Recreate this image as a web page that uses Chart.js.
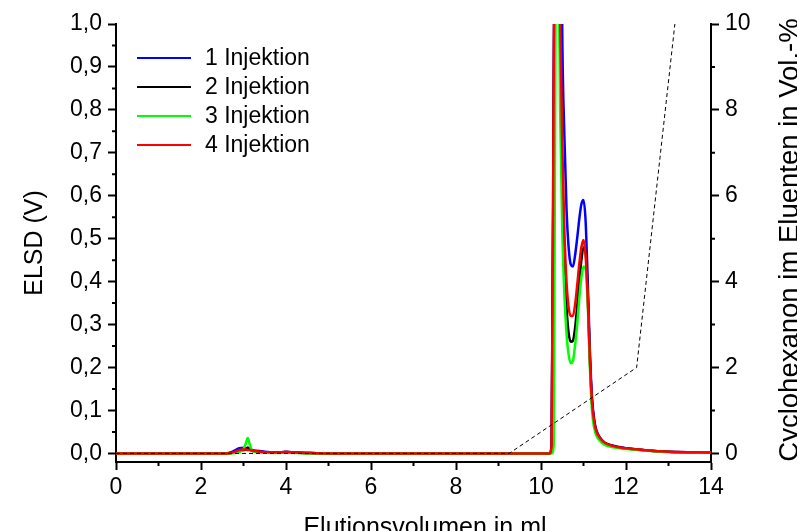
<!DOCTYPE html>
<html>
<head>
<meta charset="utf-8">
<script src="https://cdn.jsdelivr.net/npm/chart.js@4.4.0/dist/chart.umd.min.js"></script>
<style>
  html, body { margin: 0; padding: 0; background: #fff; }
  #wrap { width: 797px; height: 531px; }
</style>
</head>
<body>
<div id="wrap"><canvas id="elsdChart" width="797" height="531"></canvas></div>
<script>
// Elutionsvolumen (ml), gemeinsame Stuetzstellen fuer alle Injektionen
const volumes = [0, 2.6, 2.7, 2.8, 2.9, 3.0, 3.05, 3.1, 3.15, 3.2, 3.3, 3.5, 3.8, 4.0, 4.2, 4.5, 5.0, 8.0,
    10.2, 10.25, 10.3, 10.35, 10.4, 10.45, 10.5, 10.55, 10.6, 10.65, 10.7, 10.75, 10.8, 10.85, 10.9, 10.95,
    11.0, 11.05, 11.1, 11.15, 11.2, 11.25, 11.3, 11.4, 11.5, 11.7, 12.0, 12.5, 13.0, 14.0];

// ELSD-Signal (V)
const inj1 = [0, 0, 0.002, 0.007, 0.012, 0.013, 0.012, 0.011, 0.010, 0.008, 0.006, 0.004, 0.002, 0.004, 0.002, 0.001, 0, 0,
    0, 0.02, 0.9, 1.6, 1.9, 1.7, 0.98, 0.74, 0.57, 0.48, 0.44, 0.435, 0.46, 0.50, 0.545, 0.58,
    0.59, 0.54, 0.40, 0.24, 0.13, 0.08, 0.055, 0.035, 0.025, 0.018, 0.012, 0.007, 0.004, 0.002];
const inj2 = [0, 0, 0.001, 0.003, 0.006, 0.008, 0.009, 0.014, 0.009, 0.006, 0.005, 0.003, 0.002, 0.003, 0.002, 0.001, 0, 0,
    0, 0.01, 0.8, 1.6, 1.5, 0.95, 0.64, 0.45, 0.34, 0.28, 0.26, 0.262, 0.29, 0.34, 0.40, 0.45,
    0.48, 0.47, 0.37, 0.22, 0.12, 0.075, 0.052, 0.034, 0.025, 0.017, 0.012, 0.007, 0.004, 0.002];
const inj3 = [0, 0, 0, 0.001, 0.003, 0.010, 0.022, 0.036, 0.020, 0.006, 0.003, 0.002, 0.001, 0.002, 0.001, 0, 0, 0,
    0, 0, 0.02, 1.2, 1.3, 0.8, 0.52, 0.37, 0.28, 0.23, 0.21, 0.215, 0.25, 0.30, 0.36, 0.41,
    0.435, 0.43, 0.35, 0.20, 0.10, 0.06, 0.042, 0.028, 0.020, 0.014, 0.010, 0.006, 0.003, 0.002];
const inj4 = [0, 0, 0.001, 0.004, 0.008, 0.009, 0.009, 0.008, 0.008, 0.007, 0.005, 0.003, 0.002, 0.003, 0.002, 0.001, 0, 0,
    0, 0.02, 0.9, 1.6, 1.6, 1.02, 0.72, 0.52, 0.40, 0.34, 0.32, 0.32, 0.345, 0.39, 0.44, 0.48,
    0.497, 0.46, 0.36, 0.22, 0.12, 0.075, 0.052, 0.034, 0.025, 0.017, 0.012, 0.007, 0.004, 0.002];

// Gradient: Cyclohexanon im Eluenten (Vol.-%)
const gradVolumes = [0, 9.25, 12.25, 13.15];
const gradPercent = [0, 0, 2, 10];

const seriesNames = ['1 Injektion', '2 Injektion', '3 Injektion', '4 Injektion'];
const seriesColors = ['#0000ff', '#000000', '#00ff00', '#ff0000'];

const xTicks = [0, 2, 4, 6, 8, 10, 12, 14];

const FONT = '"Liberation Sans", Arial, sans-serif';

function toPoints(xs, ys) {
    return xs.map((x, i) => ({ x: x, y: ys[i] }));
}

const signals = [inj1, inj2, inj3, inj4];
const datasets = signals.map((ys, i) => ({
    label: seriesNames[i],
    data: toPoints(volumes, ys),
    borderColor: seriesColors[i],
    borderWidth: 2.5,
    pointRadius: 0,
    showLine: true,
    cubicInterpolationMode: 'monotone',
    yAxisID: 'y',
    order: 4 - i
}));
datasets.push({
    label: 'Gradient',
    data: toPoints(gradVolumes, gradPercent),
    borderColor: '#000000',
    borderWidth: 1,
    borderDash: [4, 3],
    pointRadius: 0,
    showLine: true,
    yAxisID: 'y1',
    order: 0
});

// kleine Zwischenstriche an allen Achsen
const minorTicks = {
    id: 'minorTicks',
    afterDraw(chart) {
        const ctx = chart.ctx;
        ctx.save();
        ctx.strokeStyle = '#000';
        ctx.lineWidth = 2;
        const xs = chart.scales.x, y = chart.scales.y, y1 = chart.scales.y1;
        const area = chart.chartArea;
        ctx.beginPath();
        for (let v = 1; v < 14; v += 2) {
            const px = xs.getPixelForValue(v);
            ctx.moveTo(px, area.bottom);
            ctx.lineTo(px, area.bottom + 4);
        }
        for (let v = 0.05; v < 1; v += 0.1) {
            const py = y.getPixelForValue(v);
            ctx.moveTo(area.left, py);
            ctx.lineTo(area.left - 4, py);
        }
        for (let v = 1; v < 10; v += 2) {
            const py = y1.getPixelForValue(v);
            ctx.moveTo(area.right, py);
            ctx.lineTo(area.right + 4, py);
        }
        ctx.stroke();
        ctx.restore();
    }
};

// Legende oben links im Diagramm
const innerLegend = {
    id: 'innerLegend',
    afterDraw(chart) {
        const ctx = chart.ctx;
        ctx.save();
        ctx.font = '23px ' + FONT;
        ctx.textBaseline = 'middle';
        seriesNames.forEach((name, i) => {
            const yy = 58 + i * 29;
            ctx.strokeStyle = seriesColors[i];
            ctx.lineWidth = 2;
            ctx.beginPath();
            ctx.moveTo(137, yy);
            ctx.lineTo(191, yy);
            ctx.stroke();
            ctx.fillStyle = '#000';
            ctx.fillText(name, 205, yy + 1);
        });
        ctx.restore();
    }
};

// Achsentitel unten und rechts (rechts von unten nach oben gelesen)
const axisTitles = {
    id: 'axisTitles',
    afterDraw(chart) {
        const ctx = chart.ctx;
        ctx.save();
        ctx.fillStyle = '#000';
        ctx.textAlign = 'center';
        ctx.font = '25px ' + FONT;
        ctx.textBaseline = 'alphabetic';
        ctx.fillText('Elutionsvolumen in ml', 425, 535);
        ctx.translate(790, 240);
        ctx.rotate(-Math.PI / 2);
        ctx.font = '27.5px ' + FONT;
        ctx.textBaseline = 'middle';
        ctx.fillText('Cyclohexanon im Eluenten in Vol.-%', 0, 0);
        ctx.restore();
    }
};

const ctx = document.getElementById('elsdChart').getContext('2d');
new Chart(ctx, {
    type: 'scatter',
    data: { datasets: datasets },
    options: {
        responsive: false,
        animation: false,
        layout: { padding: { top: 24, left: 0, right: 0, bottom: 0 } },
        plugins: {
            legend: { display: false },
            tooltip: { enabled: false }
        },
        scales: {
            x: {
                type: 'linear',
                min: 0,
                max: 14,
                afterBuildTicks: (axis) => { axis.ticks = xTicks.map(v => ({ value: v })); },
                afterFit: (axis) => { axis.height = 69; },
                border: { display: true, color: '#000', width: 2 },
                grid: { drawOnChartArea: false, drawTicks: true, tickLength: 8, tickColor: '#000', tickWidth: 2 },
                ticks: { color: '#000', font: { family: FONT, size: 23 }, padding: 4, maxRotation: 0 }
            },
            y: {
                type: 'linear',
                position: 'left',
                min: -0.02,
                max: 1.0,
                afterFit: (axis) => { axis.width = 116; },
                border: { display: true, color: '#000', width: 2 },
                grid: { drawOnChartArea: false, drawTicks: true, tickLength: 8, tickColor: '#000', tickWidth: 2 },
                ticks: {
                    stepSize: 0.1,
                    includeBounds: false,
                    color: '#000',
                    font: { family: FONT, size: 23 },
                    padding: 6,
                    callback: (v) => v.toFixed(1).replace('.', ',')
                },
                title: {
                    display: true,
                    text: 'ELSD (V)',
                    color: '#000',
                    font: { family: FONT, size: 25 },
                    padding: { top: 20, bottom: 0 }
                }
            },
            y1: {
                type: 'linear',
                position: 'right',
                min: -0.2,
                max: 10,
                afterFit: (axis) => { axis.width = 86; },
                border: { display: true, color: '#000', width: 2 },
                grid: { drawOnChartArea: false, drawTicks: true, tickLength: 8, tickColor: '#000', tickWidth: 2 },
                ticks: {
                    stepSize: 2,
                    includeBounds: false,
                    color: '#000',
                    font: { family: FONT, size: 23 },
                    padding: 6,
                    callback: (v) => String(Math.round(v))
                }
            }
        }
    },
    plugins: [minorTicks, innerLegend, axisTitles]
});
</script>
</body>
</html>
